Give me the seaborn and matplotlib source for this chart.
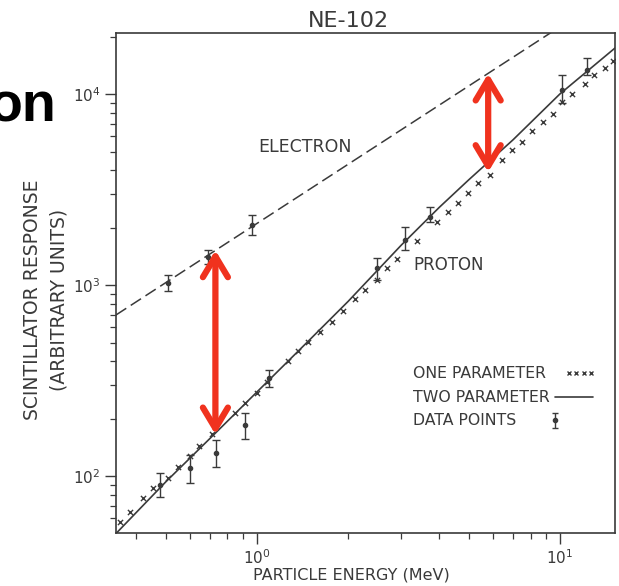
import matplotlib
matplotlib.use("Agg")
import matplotlib.pyplot as plt
import seaborn as sns

# --- data (particle energy in MeV, scintillator response in arbitrary units) ---
# two-parameter fit for protons
proton_fit_E = [0.343, 0.5, 0.75, 1.0, 1.5, 2.0, 3.0, 4.0, 5.0, 7.0, 10.0, 15.2]
proton_fit_Y = [50, 93, 175, 275, 520, 820, 1620, 2550, 3550, 5750, 10000, 17400]

# one-parameter fit for protons (plotted as small crosses)
one_par_E = [0.353, 0.381, 0.421, 0.454, 0.508, 0.549, 0.601, 0.644, 0.710, 0.846,
             0.913, 1.0, 1.079, 1.265, 1.366, 1.473, 1.614, 1.769, 1.922, 2.105,
             2.271, 2.49, 2.685, 2.897, 3.373, 3.927, 4.27, 4.60, 4.97, 5.36,
             5.87, 6.44, 6.95, 7.50, 8.09, 8.79, 9.48, 10.2, 11.0, 12.1, 13.0,
             14.1, 15.0]
one_par_Y = [57.4, 64.9, 76.7, 86.4, 97.6, 111, 127, 144, 166, 214,
             241, 272, 310, 400, 450, 505, 570, 640, 735, 840,
             945, 1065, 1230, 1370, 1700, 2140, 2420, 2700, 3050, 3440,
             3750, 4500, 5080, 5600, 6400, 7150, 7880, 9120, 10030, 11320,
             12620, 13740, 14800]

# electron response (straight line in log-log)
electron_fit_E = [0.343, 15.2]
electron_fit_Y = [697, 34600]

# measured points with error bars
proton_E = [0.478, 0.601, 0.732, 0.913, 1.10, 2.49, 3.08, 3.72, 10.2, 12.3]
proton_Y = [90, 110, 132, 185, 326, 1230, 1720, 2270, 10500, 13360]
proton_lo = [77.6, 92, 111, 156, 292, 1061, 1525, 2138, 8980, 12560]
proton_hi = [103.7, 129, 154, 214, 359, 1384, 2014, 2560, 12560, 15420]

electron_E = [0.508, 0.689, 0.963]
electron_Y = [1023, 1400, 2060]
electron_lo = [931, 1287, 1828]
electron_hi = [1128, 1523, 2323]

# electron/proton gap highlighted at two energies
gap_E = [0.73, 5.8]
gap_lo = [165, 3900]
gap_hi = [1520, 12800]

ink = "#3a3a3a"
red = "#f0321e"

sns.set_style("ticks")
plt.rcParams["font.family"] = ["DejaVu Sans"]

fig = plt.figure(figsize=(6.19, 5.86), dpi=100)
ax = fig.add_axes([0.1874, 0.0904, 0.8061, 0.8532])
ax.set_xscale("log")
ax.set_yscale("log")

sns.lineplot(x=proton_fit_E, y=proton_fit_Y, ax=ax, color=ink, lw=1.2,
             sort=False, estimator=None)
sns.lineplot(x=electron_fit_E, y=electron_fit_Y, ax=ax, color=ink, lw=1.1,
             sort=False, estimator=None, linestyle=(0, (8, 3.5)))
sns.scatterplot(x=one_par_E, y=one_par_Y, ax=ax, marker="x", color=ink,
                s=14, linewidth=1.0)

for E, Y, lo, hi in [(proton_E, proton_Y, proton_lo, proton_hi),
                     (electron_E, electron_Y, electron_lo, electron_hi)]:
    yerr = [[y - l for y, l in zip(Y, lo)], [h - y for y, h in zip(Y, hi)]]
    ax.errorbar(E, Y, yerr=yerr, fmt="o", ms=3, color=ink, ecolor=ink,
                elinewidth=1.0, capsize=3, capthick=1.0)

ax.set_xlim(0.343, 15.2)
ax.set_ylim(50.3, 20850)

for s in ax.spines.values():
    s.set_color(ink)
    s.set_linewidth(1.2)
ax.tick_params(which="major", direction="out", length=8, width=1.0, color=ink,
               labelcolor=ink, labelsize=11, pad=3)
ax.tick_params(which="minor", direction="out", length=4, width=0.9, color=ink)
ax.set_xticks([1, 10])
ax.set_xticklabels([r"$10^{0}$", r"$10^{1}$"])
ax.set_yticks([100, 1000, 10000])
ax.set_yticklabels([r"$10^{2}$", r"$10^{3}$", r"$10^{4}$"])

ax.set_xlabel("PARTICLE ENERGY (MeV)", fontsize=11.5, color=ink)
ax.xaxis.set_label_coords(0.471, -0.068)
ax.set_ylabel("SCINTILLATOR RESPONSE\n(ARBITRARY UNITS)", fontsize=13.5,
              color=ink, linespacing=1.45)
ax.yaxis.set_label_coords(-0.096, 0.466)
ax.set_title("NE-102", fontsize=16, color=ink, x=0.465, y=1.012, pad=0)

ax.text(0.379, 0.772, "ELECTRON", transform=ax.transAxes, fontsize=12.5,
        color=ink, ha="center", va="center")
ax.text(0.667, 0.536, "PROTON", transform=ax.transAxes, fontsize=12,
        color=ink, ha="center", va="center")

# key
key_rows = [0.320, 0.272, 0.226]
for y, label in zip(key_rows, ["ONE PARAMETER", "TWO PARAMETER", "DATA POINTS"]):
    ax.text(0.595, y, label, transform=ax.transAxes, fontsize=11.3, color=ink,
            ha="left", va="center")
ax.plot([0.908, 0.922, 0.938, 0.952], [key_rows[0]] * 4, "x", color=ink,
        ms=3.5, mew=1.0, transform=ax.transAxes)
ax.plot([0.879, 0.956], [key_rows[1]] * 2, "-", color=ink, lw=1.2,
        transform=ax.transAxes)
ax.errorbar([0.880], [key_rows[2]], yerr=[0.015], fmt="o", ms=3, color=ink,
            elinewidth=1.0, capsize=2.5, capthick=1.0, transform=ax.transAxes)

# red double arrows showing the electron/proton gap
for E, lo, hi in zip(gap_E, gap_lo, gap_hi):
    ax.annotate("", xy=(E, hi), xytext=(E, lo),
                arrowprops=dict(arrowstyle="<->,head_length=0.75,head_width=0.45",
                                color=red, lw=4.5, mutation_scale=20,
                                shrinkA=0, shrinkB=0))

fig.text(57 / 619, 1 - 122 / 586, "on", fontsize=40, fontweight="bold",
         family="Liberation Sans", color="black", ha="right", va="baseline")

fig.savefig("out.png", dpi=100)
